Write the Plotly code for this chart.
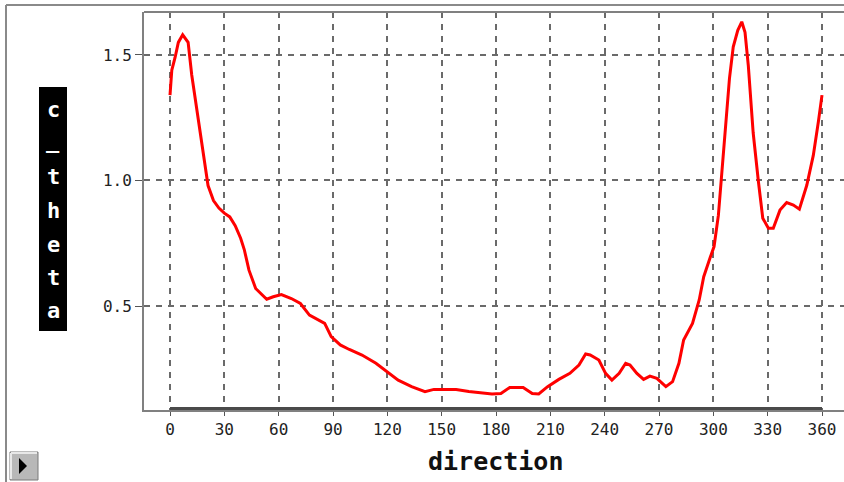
import plotly.graph_objects as go

# Direction (degrees) and the c_theta coefficient measured along it
direction = [
    0, 1, 2.8, 4.6, 7, 10, 12, 14.7, 17.5, 21,
    24, 27, 30, 33, 36, 39, 41, 43.6, 47.3, 53.4,
    57, 61.5, 67, 72, 77, 81.7, 85.4, 89, 94, 99,
    106, 113.7, 120, 126, 133.4, 140.8, 145.7, 158, 165, 172.8,
    177.8, 182.7, 187.6, 195, 200, 203.6, 208.5, 214.7, 220.8, 225.8,
    229.5, 232, 236.8, 240.5, 244, 248, 251.6, 254, 257.8, 261.5,
    265, 268.8, 273.8, 277.5, 281, 283.6, 288.5, 292.2, 294.7, 298.4,
    300.4, 302.8, 305.2, 306.8, 308.9, 311, 313.5, 315.7, 317.5, 319.3,
    322, 324.9, 327.3, 330.4, 333.1, 336.8, 340.5, 344.2, 347.5, 351.6,
    355.2, 358, 360,
]
c_theta = [
    1.34, 1.44, 1.49, 1.55, 1.58, 1.55, 1.42, 1.29, 1.155, 0.98,
    0.92, 0.89, 0.87, 0.855, 0.82, 0.77, 0.725, 0.643, 0.57, 0.527,
    0.537, 0.546, 0.53, 0.51, 0.464, 0.444, 0.431, 0.378, 0.345, 0.327,
    0.305, 0.272, 0.239, 0.205, 0.179, 0.159, 0.168, 0.168, 0.16, 0.155,
    0.150, 0.152, 0.176, 0.176, 0.152, 0.15, 0.179, 0.208, 0.232, 0.265,
    0.309, 0.305, 0.285, 0.232, 0.205, 0.232, 0.272, 0.265, 0.232, 0.208,
    0.221, 0.212, 0.179, 0.199, 0.272, 0.365, 0.431, 0.524, 0.617, 0.696,
    0.737, 0.862, 1.074, 1.22, 1.406, 1.532, 1.598, 1.632, 1.59, 1.459,
    1.19, 0.995, 0.85, 0.81, 0.81, 0.882, 0.912, 0.902, 0.886, 0.981,
    1.1, 1.234, 1.34,
]

x_ticks = list(range(0, 361, 30))
y_ticks = [0.5, 1.0, 1.5]
y_label = "c_theta"

W, H = 844, 482
ML, MR, MT, MB = 144, 0, 12, 72

fig = go.Figure()
fig.add_trace(go.Scatter(
    x=direction, y=c_theta, mode="lines",
    line=dict(color="#ff0000", width=3),
    hoverinfo="skip", showlegend=False,
))

grid = dict(showgrid=True, gridcolor="#6a6a6a", gridwidth=1.5, griddash="6px,6px")
tick_font = dict(family="DejaVu Sans Mono", size=16, color="#222222")

fig.update_xaxes(
    range=[-14.36, 372.15], tickvals=x_ticks, ticktext=[str(v) for v in x_ticks],
    ticks="outside", ticklen=4, tickcolor="#555555", tickwidth=1,
    tickfont=tick_font, showline=True, linecolor="#808080", linewidth=2,
    zeroline=False, fixedrange=True, **grid,
)
fig.update_yaxes(
    range=[0.086, 1.671], tickvals=y_ticks, ticktext=["0.5", "1.0", "1.5"],
    ticks="outside", ticklen=7, tickcolor="#555555", tickwidth=1,
    tickfont=tick_font, showline=True, linecolor="#808080", linewidth=2,
    zeroline=False, fixedrange=True, **grid,
)


def px_x(p):
    return (p - ML) / (W - ML - MR)


def px_y(p):
    return (H - MB - p) / (H - MT - MB)


shapes = [
    # top edge of the plot box
    dict(type="line", xref="paper", yref="paper", x0=0, x1=1, y0=1, y1=1,
         line=dict(color="#808080", width=2)),
    # dark baseline spanning the direction domain
    dict(type="line", xref="x", yref="paper", x0=0, x1=360, y0=0.004, y1=0.004,
         line=dict(color="#4a4a4a", width=3)),
    # outer panel frame (left and top)
    dict(type="line", xref="paper", yref="paper",
         x0=px_x(6), x1=px_x(6), y0=px_y(482), y1=px_y(5),
         line=dict(color="#8a8a8a", width=2)),
    dict(type="line", xref="paper", yref="paper",
         x0=px_x(6), x1=1.01, y0=px_y(5), y1=px_y(5),
         line=dict(color="#8a8a8a", width=2)),
]

# black band behind the vertical axis label
shapes.append(dict(type="rect", xref="paper", yref="paper",
                   x0=px_x(39), x1=px_x(67), y0=px_y(331), y1=px_y(87),
                   fillcolor="#000000", line=dict(width=0)))

# small play button in the lower-left corner
shapes.append(dict(type="rect", xref="paper", yref="paper",
                   x0=px_x(10), x1=px_x(38), y0=px_y(480), y1=px_y(452),
                   fillcolor="#b8b8b8", line=dict(color="#7a7a7a", width=1)))
shapes.append(dict(type="line", xref="paper", yref="paper",
                   x0=px_x(11), x1=px_x(37), y0=px_y(453), y1=px_y(453),
                   line=dict(color="#e8e8e8", width=2)))
shapes.append(dict(type="line", xref="paper", yref="paper",
                   x0=px_x(11), x1=px_x(11), y0=px_y(479), y1=px_y(453),
                   line=dict(color="#e8e8e8", width=2)))
tri = "M {:.5f},{:.5f} L {:.5f},{:.5f} L {:.5f},{:.5f} Z".format(
    px_x(19), px_y(458), px_x(19), px_y(474), px_x(27), px_y(466))
shapes.append(dict(type="path", xref="paper", yref="paper", path=tri,
                   fillcolor="#000000", line=dict(width=0)))

annotations = []
letter_y = [109, 140, 177, 210, 244, 277, 310]
for ch, yp in zip(y_label, letter_y):
    annotations.append(dict(
        text="<b>%s</b>" % ch, xref="paper", yref="paper",
        x=px_x(53), y=px_y(yp), xanchor="center", yanchor="middle",
        showarrow=False, font=dict(family="DejaVu Sans Mono", size=22, color="#ffffff"),
    ))
annotations.append(dict(
    text="<b>direction</b>", xref="paper", yref="paper",
    x=px_x(495), y=px_y(462), xanchor="center", yanchor="middle",
    showarrow=False, font=dict(family="DejaVu Sans Mono", size=25, color="#111111"),
))

fig.update_layout(
    width=W, height=H,
    margin=dict(l=ML, r=MR, t=MT, b=MB),
    paper_bgcolor="#ffffff", plot_bgcolor="#ffffff",
    shapes=shapes, annotations=annotations,
    showlegend=False,
)

fig.write_html("out.html", config={"displayModeBar": False})
